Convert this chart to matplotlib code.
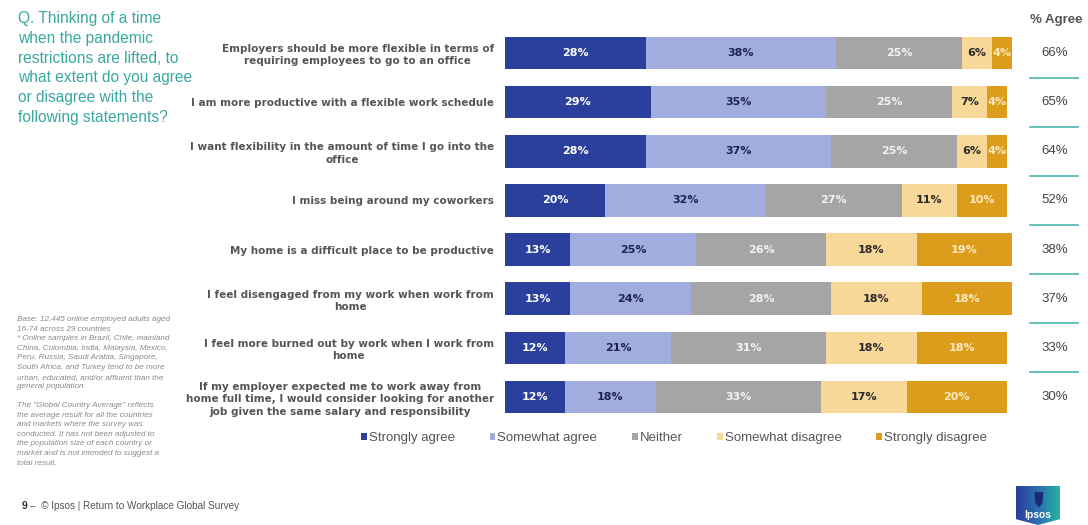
import matplotlib
matplotlib.use('Agg')
import matplotlib.pyplot as plt
import matplotlib.transforms as mtransforms
from matplotlib.patches import Patch, Polygon
import numpy as np

statements = [
    "Employers should be more flexible in terms of\nrequiring employees to go to an office",
    "I am more productive with a flexible work schedule",
    "I want flexibility in the amount of time I go into the\noffice",
    "I miss being around my coworkers",
    "My home is a difficult place to be productive",
    "I feel disengaged from my work when work from\nhome",
    "I feel more burned out by work when I work from\nhome",
    "If my employer expected me to work away from\nhome full time, I would consider looking for another\njob given the same salary and responsibility",
]
strongly_agree = [28, 29, 28, 20, 13, 13, 12, 12]
somewhat_agree = [38, 35, 37, 32, 25, 24, 21, 18]
neither = [25, 25, 25, 27, 26, 28, 31, 33]
somewhat_disagree = [6, 7, 6, 11, 18, 18, 18, 17]
strongly_disagree = [4, 4, 4, 10, 19, 18, 18, 20]
pct_agree = [66, 65, 64, 52, 38, 37, 33, 30]

series = [
    ("Strongly agree", strongly_agree, "#2b3f9c", "white"),
    ("Somewhat agree", somewhat_agree, "#a2addf", "#1c2450"),
    ("Neither", neither, "#a5a5a5", "#f2f2f2"),
    ("Somewhat disagree", somewhat_disagree, "#f8d898", "#2a2a2a"),
    ("Strongly disagree", strongly_disagree, "#dd9d1c", "#fbe9c0"),
]

ARIAL = "Liberation Sans"
W, H = 1088, 525
fig = plt.figure(figsize=(W / 100, H / 100), dpi=100)
fig.patch.set_facecolor("white")

ax = fig.add_axes([505 / W, 1 - 421.5 / H, (1012 - 505) / W, 393 / H])
y = np.arange(len(statements))
left = np.zeros(len(statements))
for name, vals, color, tcolor in series:
    vals = np.array(vals, dtype=float)
    ax.barh(y, vals, left=left, height=0.66, color=color, linewidth=0)
    for yi, l, v in zip(y, left, vals):
        ax.text(l + v / 2, yi, "{}%".format(int(v)), ha="center", va="center",
                fontsize=8, fontweight="bold", color=tcolor)
    left += vals

ax.set_xlim(0, 101)
ax.set_ylim(len(statements) - 0.5, -0.5)
ax.set_yticks(y)
ax.set_yticklabels(statements, multialignment="center", fontsize=7.5,
                   fontweight="bold", color="#555555", linespacing=1.3)
ax.tick_params(axis="y", length=0, pad=8)
ax.set_xticks([])
for s in ax.spines.values():
    s.set_visible(False)

# % Agree column on the right
tr = mtransforms.blended_transform_factory(fig.transFigure, ax.transData)
fig.text(1056 / W, 1 - 20 / H, "% Agree", ha="center", va="center",
         fontsize=9.5, color="#555555", family=ARIAL, fontweight="bold")
for yi, v in zip(y, pct_agree):
    ax.text(1055 / W, yi, "{}%".format(v), transform=tr, ha="center",
            va="center", fontsize=9.5, color="#444444", clip_on=False, family=ARIAL)
for yi in y[:-1]:
    ax.plot([1030 / W, 1078 / W], [yi + 0.5, yi + 0.5], transform=tr,
            color="#5bbdb5", linewidth=1.3, clip_on=False)

# question
fig.text(18 / W, 1 - 11 / H,
         "Q. Thinking of a time\nwhen the pandemic\nrestrictions are lifted, to\n"
         "what extent do you agree\nor disagree with the\nfollowing statements?",
         ha="left", va="top", fontsize=11.2, color="#3aa89f", linespacing=1.4,
         family=ARIAL)

# legend
handles = [Patch(facecolor=c, edgecolor="none", label=n) for n, _, c, _ in series]
fig.legend(handles=handles, loc="center", bbox_to_anchor=(674 / W, 1 - 438 / H),
           ncol=5, frameon=False, handlelength=0.45, handleheight=0.45,
           handletextpad=0.15, columnspacing=2.6, labelcolor="#555555",
           prop={"family": ARIAL, "size": 9.5})

# notes
notes1 = ("Base: 12,445 online employed adults aged\n16-74 across 29 countries\n"
          "* Online samples in Brazil, Chile, mainland\nChina, Colombia, India, Malaysia, Mexico,\n"
          "Peru, Russia, Saudi Arabia, Singapore,\nSouth Africa, and Turkey tend to be more\n"
          "urban, educated, and/or affluent than the\ngeneral population")
notes2 = ("The \"Global Country Average\" reflects\nthe average result for all the countries\n"
          "and markets where the survey was\nconducted. It has not been adjusted to\n"
          "the population size of each country or\nmarket and is not intended to suggest a\n"
          "total result.")
fig.text(17 / W, 1 - 316 / H, notes1, ha="left", va="top", fontsize=5.9,
         style="italic", color="#8a8a8a", linespacing=1.52, family=ARIAL)
fig.text(17 / W, 1 - 402 / H, notes2, ha="left", va="top", fontsize=5.9,
         style="italic", color="#8a8a8a", linespacing=1.52, family=ARIAL)

# footer
fig.text(22 / W, 1 - 506 / H, "9", ha="left", va="center", fontsize=7.5,
         fontweight="bold", color="#333333", family=ARIAL)
fig.text(30 / W, 1 - 506 / H, "\u2013  \u00a9 Ipsos | Return to Workplace Global Survey",
         ha="left", va="center", fontsize=7.2, color="#555555", family=ARIAL)

# logo
lx0, lx1, ly0, ly1 = 1016, 1060, 525, 486
logo_ax = fig.add_axes([lx0 / W, 1 - ly0 / H, (lx1 - lx0) / W, (ly0 - ly1) / H])
logo_ax.set_xlim(0, 1)
logo_ax.set_ylim(0, 1)
logo_ax.axis("off")
grad = np.linspace(0, 1, 64)[None, :]
cmap = matplotlib.colors.LinearSegmentedColormap.from_list("ip", ["#2c3e9c", "#2a6fb0", "#27b3a7"])
im = logo_ax.imshow(grad, extent=(0, 1, 0, 1), aspect="auto", cmap=cmap)
shield = Polygon([(0, 1), (1, 1), (1, 0.15), (0.5, 0), (0, 0.15)], closed=True,
                 transform=logo_ax.transData, facecolor="none")
logo_ax.add_patch(shield)
im.set_clip_path(shield)
logo_ax.add_patch(Polygon([(0.42, 0.85), (0.62, 0.85), (0.6, 0.55), (0.52, 0.45), (0.44, 0.55)],
                          closed=True, facecolor="#1d2a70", edgecolor="none"))
logo_ax.text(0.5, 0.25, "Ipsos", ha="center", va="center", fontsize=7.5,
             fontweight="bold", color="white", family=ARIAL)

fig.savefig("out.png", dpi=100)
